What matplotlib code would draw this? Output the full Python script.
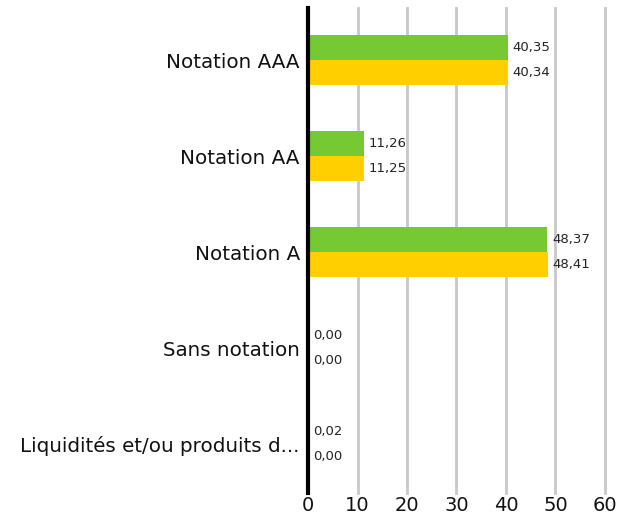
import matplotlib
matplotlib.use("Agg")
import matplotlib.pyplot as plt
import numpy as np

categories = ["Notation AAA", "Notation AA", "Notation A", "Sans notation", "Liquidités et/ou produits d..."]
series_green = [40.35, 11.26, 48.37, 0.00, 0.02]
series_yellow = [40.34, 11.25, 48.41, 0.00, 0.00]
xticks = [0, 10, 20, 30, 40, 50, 60]

green = "#76C932"
yellow = "#FFCF00"

plt.rcParams['font.family'] = ['DejaVu Sans']

fig = plt.figure(figsize=(6.34, 5.16), dpi=100)
# axes spans pixel rows 8..493
ax = fig.add_axes([0.486, 23 / 516, 0.468, 485 / 516])

n = len(categories)
y = np.arange(n)
h = 0.26
ax.barh(y - h/2, series_green, height=h, color=green, zorder=3)
ax.barh(y + h/2, series_yellow, height=h, color=yellow, zorder=3)

for i in range(n):
    ax.annotate(f"{series_green[i]:.2f}".replace(".", ","), (series_green[i], y[i] - h/2),
                xytext=(3.5, 0), textcoords="offset points", va="center", ha="left", fontsize=9.5, color="#222222")
    ax.annotate(f"{series_yellow[i]:.2f}".replace(".", ","), (series_yellow[i], y[i] + h/2),
                xytext=(3.5, 0), textcoords="offset points", va="center", ha="left", fontsize=9.5, color="#222222")

ax.set_ylim(4 + 49 / 96, -52 / 96)
ax.set_xlim(0, 60)
ax.set_yticks(y)
ax.set_yticklabels(categories, fontsize=14.3, color="#111111")
ax.set_xticks(xticks)
ax.set_xticklabels([str(t) for t in xticks], fontsize=14, color="#111111")
ax.tick_params(axis="x", length=0, pad=2)
ax.tick_params(axis="y", length=0, pad=6)

ax.xaxis.grid(True, color="#c8c8c8", linewidth=2, zorder=0)
ax.set_axisbelow(True)
for gl in ax.get_xgridlines():
    gl.set_clip_on(False)
for s in ["top", "right", "bottom"]:
    ax.spines[s].set_visible(False)
ax.spines["left"].set_linewidth(3)
ax.spines["left"].set_color("black")
ax.spines["left"].set_zorder(5)

fig.savefig("out.png", dpi=100)
